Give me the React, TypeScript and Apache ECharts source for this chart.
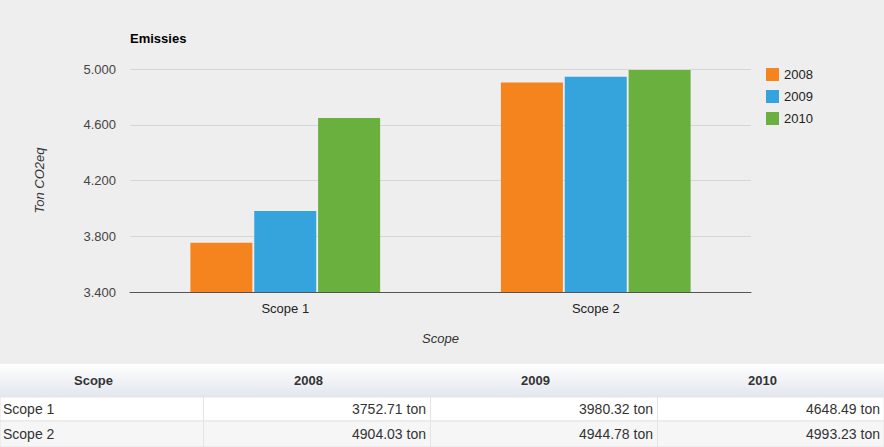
import React, { useEffect, useRef } from "react";
import * as echarts from "echarts";

const categories = ["Scope 1", "Scope 2"];
const years = ["2008", "2009", "2010"];
const values2008 = [3752.71, 4904.03];
const values2009 = [3980.32, 4944.78];
const values2010 = [4648.49, 4993.23];
const yTicks = [3400, 3800, 4200, 4600, 5000];
const yTickLabels = ["3.400", "3.800", "4.200", "4.600", "5.000"];
const colors = ["#f5841f", "#35a3dc", "#69b03f"];

const W = 884;
const H = 447;

export default function App() {
  const ref = useRef<HTMLDivElement>(null);
  useEffect(() => {
    if (!ref.current) return;
    const chart = echarts.init(ref.current, null, { renderer: "svg" });
    const seriesValues = [values2008, values2009, values2010];

    const colX = [0, 203, 430, 657, 884];
    const headerTop = 364;
    const headerH = 33;
    const rowH = [24, 26];
    const graphics: any[] = [];
    graphics.push({
      type: "rect",
      shape: { x: 0, y: headerTop, width: W, height: headerH },
      style: {
        fill: new echarts.graphic.LinearGradient(0, 0, 0, 1, [
          { offset: 0, color: "#ffffff" },
          { offset: 1, color: "#e2e6ee" },
        ]),
      },
      silent: true,
    });
    const headers = ["Scope", ...years];
    headers.forEach((h, i) => {
      graphics.push({
        type: "text",
        x: (colX[i] + colX[i + 1]) / 2 - 8,
        y: headerTop + headerH / 2,
        style: {
          text: h,
          fill: "#333",
          font: "bold 13px 'Liberation Sans', Arial, sans-serif",
          align: "center",
          verticalAlign: "middle",
        },
        silent: true,
      });
    });
    let y = headerTop + headerH;
    categories.forEach((c, r) => {
      graphics.push({
        type: "rect",
        shape: { x: 0, y, width: W, height: rowH[r] },
        style: { fill: r === 0 ? "#ffffff" : "#f6f6f6", stroke: "#e4e4e4", lineWidth: 1 },
        silent: true,
      });
      for (let k = 1; k < 4; k++) {
        graphics.push({
          type: "line",
          shape: { x1: colX[k] + 0.5, y1: y, x2: colX[k] + 0.5, y2: y + rowH[r] },
          style: { stroke: "#e4e4e4", lineWidth: 1 },
          silent: true,
        });
      }
      graphics.push({
        type: "text",
        x: 3,
        y: y + rowH[r] / 2,
        style: {
          text: c,
          fill: "#333",
          font: "14px 'Liberation Sans', Arial, sans-serif",
          align: "left",
          verticalAlign: "middle",
        },
        silent: true,
      });
      seriesValues.forEach((vals, k) => {
        graphics.push({
          type: "text",
          x: colX[k + 2] - 4,
          y: y + rowH[r] / 2,
          style: {
            text: vals[r].toFixed(2) + " ton",
            fill: "#333",
            font: "14px 'Liberation Sans', Arial, sans-serif",
            align: "right",
            verticalAlign: "middle",
          },
          silent: true,
        });
      });
      y += rowH[r];
    });

    const option: any = {
      animation: false,
      backgroundColor: "#eeeeee",
      textStyle: { fontFamily: "'Liberation Sans', Arial, sans-serif" },
      title: {
        text: "Emissies",
        left: 125,
        top: 27,
        textStyle: { fontSize: 13, fontWeight: "bold", color: "#000" },
      },
      legend: {
        orient: "vertical",
        left: 761,
        top: 63,
        icon: "rect",
        itemWidth: 13,
        itemHeight: 13,
        itemGap: 9,
        textStyle: { fontSize: 13, color: "#222" },
        data: years,
      },
      grid: { left: 130, right: W - 751, top: 69, bottom: H - 292 },
      xAxis: {
        type: "category",
        data: categories,
        name: "Scope",
        nameLocation: "middle",
        nameGap: 40,
        nameTextStyle: { fontStyle: "italic", fontSize: 13, color: "#333" },
        axisLine: { lineStyle: { color: "#555", width: 1 } },
        axisTick: { show: false },
        axisLabel: { fontSize: 13, color: "#222", margin: 10 },
      },
      yAxis: {
        type: "value",
        min: 3400,
        max: 5000,
        interval: 200,
        name: "Ton CO2eq",
        nameLocation: "middle",
        nameGap: 84,
        nameTextStyle: { fontStyle: "italic", fontSize: 13, color: "#333" },
        axisLine: { show: false },
        axisTick: { show: false },
        splitLine: { show: false },
        axisLabel: {
          fontSize: 13,
          color: "#444",
          margin: 14,
          formatter: (v: number) => {
            const i = yTicks.indexOf(Math.round(v));
            return i >= 0 ? yTickLabels[i] : "";
          },
        },
      },
      graphic: graphics,
      series: years.map((yr, i) => ({
        name: yr,
        type: "bar",
        data: seriesValues[i],
        barWidth: 62,
        barGap: "3%",
        itemStyle: { color: colors[i] },
        z: 3,
        markLine:
          i === 0
            ? {
                silent: true,
                symbol: "none",
                label: { show: false },
                lineStyle: { color: "#d6d6d6", type: "solid", width: 1 },
                z: 1,
                data: yTicks.slice(1).map((t) => ({ yAxis: t })),
              }
            : undefined,
      })),
    };
    chart.setOption(option);
    return () => chart.dispose();
  }, []);
  return (
    <div
      ref={ref}
      style={{ position: "fixed", left: 0, top: 0, width: W, height: H }}
    />
  );
}
